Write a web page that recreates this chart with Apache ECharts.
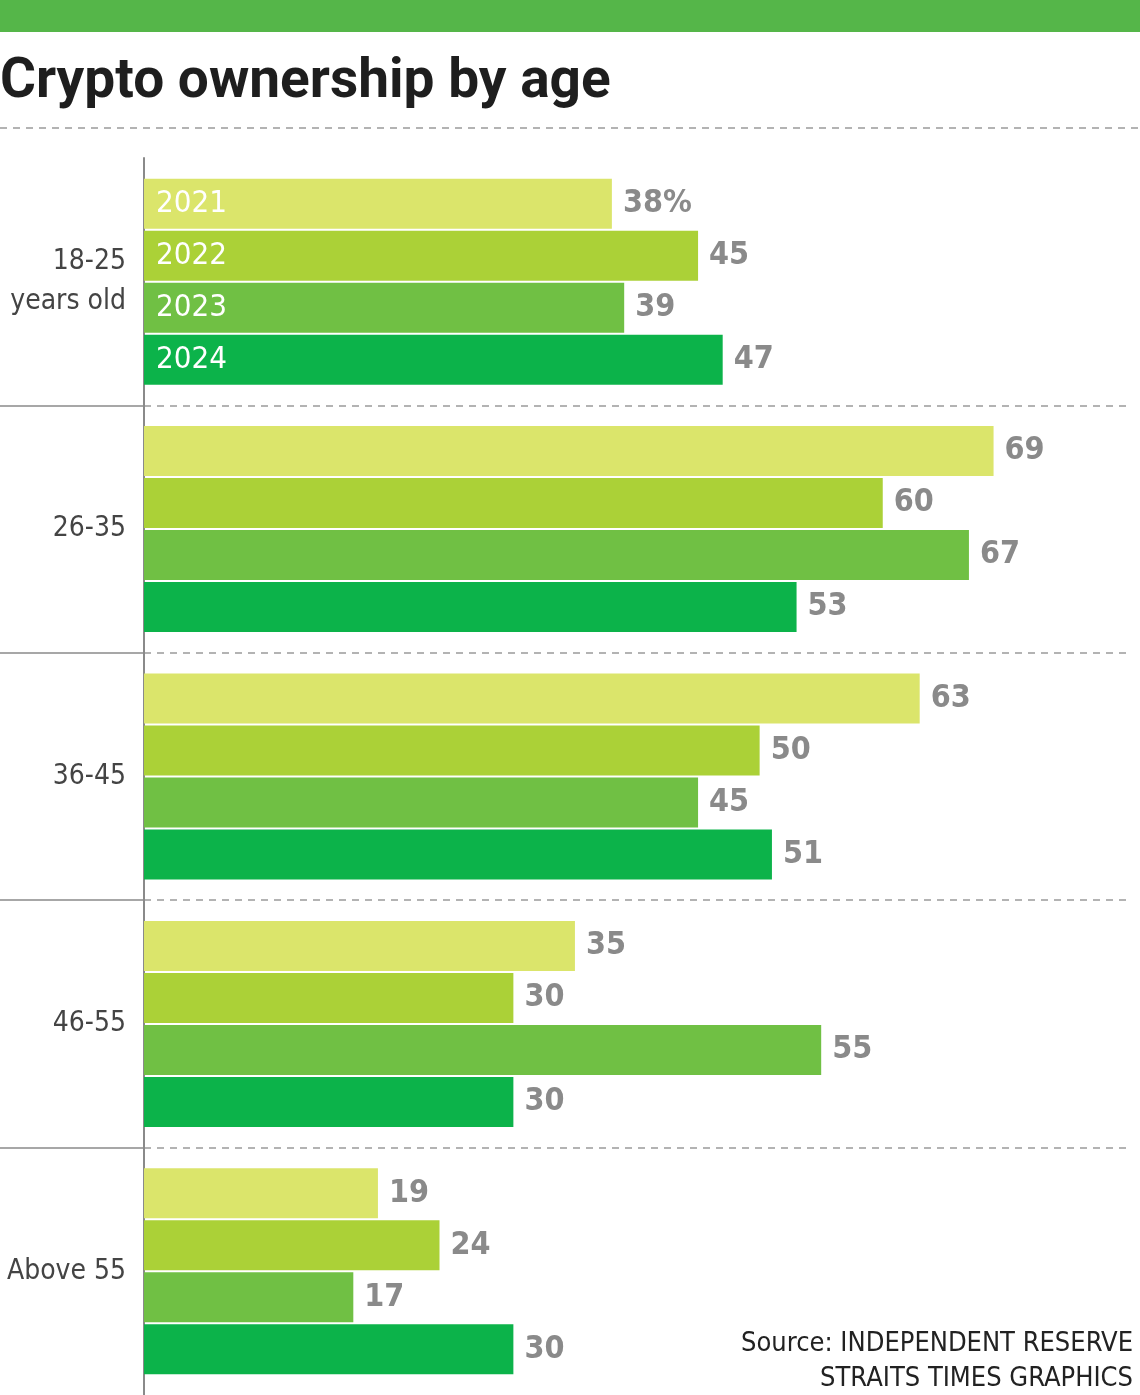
<!DOCTYPE html>
<html><head><meta charset="utf-8">
<script src="https://cdn.jsdelivr.net/npm/echarts@6/dist/echarts.min.js"></script>
<style>html,body{margin:0;padding:0;background:#fff}#c{width:1140px;height:1395px}</style>
</head><body><div id="c"></div>
<script>
const categories = ['18-25\nyears old', '26-35', '36-45', '46-55', 'Above 55'];
const years = ['2021', '2022', '2023', '2024'];
const v2021 = [38, 69, 63, 35, 19];
const v2022 = [45, 60, 50, 30, 24];
const v2023 = [39, 67, 45, 55, 17];
const v2024 = [47, 53, 51, 30, 30];
const colors = ['#dbe56b', '#abd137', '#70c044', '#0cb34a'];
const condensed = '"Liberation Sans Narrow", "DejaVu Sans Condensed", sans-serif';

const seriesVals = [v2021, v2022, v2023, v2024];
const chart = echarts.init(document.getElementById('c'));
const series = seriesVals.map((vals, si) => ({
  type: 'bar', name: years[si], xAxisIndex: 0, yAxisIndex: 0,
  barWidth: 50, barGap: '4%',
  itemStyle: { color: colors[si] },
  label: {
    show: true, position: 'right', distance: 11,
    color: '#8a8a8a', fontFamily: condensed, fontWeight: 'bold', fontSize: 32,
    formatter: p => (si === 0 && p.dataIndex === 0) ? p.value + '%' : String(p.value)
  },
  data: vals
}));
// year labels inside the first group's bars (transparent overlay on an identical hidden axis)
seriesVals.forEach((vals, si) => {
  series.push({
    type: 'bar', xAxisIndex: 2, yAxisIndex: 2, barWidth: 50, barGap: '4%',
    silent: true, z: 3,
    itemStyle: { color: 'transparent' },
    label: { show: true, position: 'insideLeft', distance: 12, color: '#ffffff',
      fontFamily: condensed, fontSize: 31, formatter: () => years[si] },
    data: vals.map((v, i) => i === 0 ? v : null)
  });
});

chart.setOption({
  animation: false,
  graphic: [
    { type: 'rect', left: 0, top: 0, shape: { width: 1140, height: 32 }, style: { fill: '#55b649' } },
    { type: 'text', left: 0, top: 56, style: { text: 'Crypto ownership by age', fontFamily: 'Roboto, sans-serif', fontWeight: 'bold', fontSize: 55, fill: '#1e1e1e' } },
    { type: 'line', shape: { x1: 0, y1: 128, x2: 1140, y2: 128 }, style: { stroke: '#9a9a9a', lineWidth: 1.5, lineDash: [7, 6] } },
    { type: 'text', right: 7, top: 1330, style: { text: 'Source: INDEPENDENT RESERVE', fontFamily: condensed, fontSize: 27, fill: '#222', align: 'right' } },
    { type: 'text', right: 7, top: 1365, style: { text: 'STRAITS TIMES GRAPHICS', fontFamily: condensed, fontSize: 27, fill: '#222', align: 'right' } }
  ],
  grid: [
    { left: 144, right: 11, top: 158, bottom: 0, outerBoundsMode: 'none', containLabel: false },
    { left: 0, width: 143, top: 158, bottom: 0, outerBoundsMode: 'none', containLabel: false },
    { left: 144, right: 11, top: 158, bottom: 0, outerBoundsMode: 'none', containLabel: false }
  ],
  xAxis: [
    { gridIndex: 0, type: 'value', min: 0, max: 80, show: false },
    { gridIndex: 1, type: 'value', min: 0, max: 1, show: false },
    { gridIndex: 2, type: 'value', min: 0, max: 80, show: false }
  ],
  yAxis: [
    { gridIndex: 0, type: 'category', inverse: true, data: categories,
      axisLine: { show: true, lineStyle: { color: '#8a8a8a', width: 2 } },
      axisTick: { show: false },
      axisLabel: { show: true, margin: 18, color: '#444', fontFamily: condensed, fontSize: 28, lineHeight: 40, align: 'right' },
      splitLine: { show: true, showMinLine: false, showMaxLine: false, lineStyle: { color: '#9a9a9a', width: 1.5, type: [7, 6] } }
    },
    { gridIndex: 1, type: 'category', inverse: true, data: categories,
      axisLine: { show: false }, axisTick: { show: false }, axisLabel: { show: false },
      splitLine: { show: true, showMinLine: false, showMaxLine: false, lineStyle: { color: '#8a8a8a', width: 1.5 } }
    },
    { gridIndex: 2, type: 'category', inverse: true, data: categories, show: false }
  ],
  series: series
});
</script></body></html>
